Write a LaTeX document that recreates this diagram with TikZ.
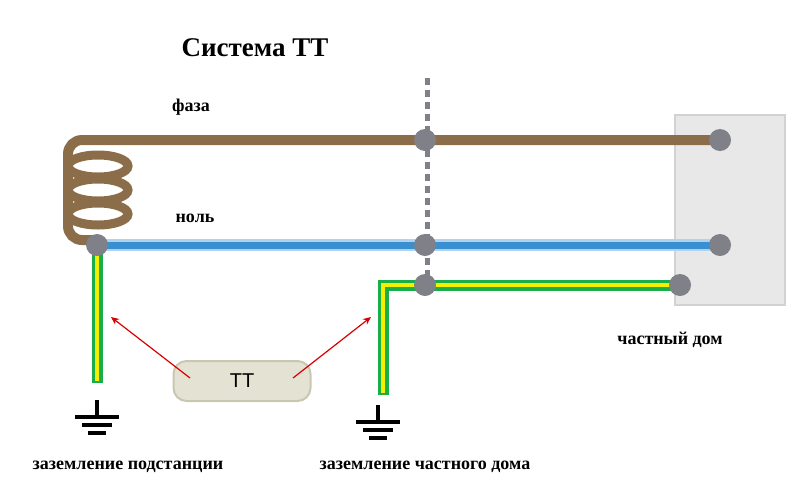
\documentclass[tikz,border=0pt]{standalone}
\usepackage{fontspec}
\setmainfont{Liberation Serif}
\newfontfamily\labelsans{Liberation Sans}
\usetikzlibrary{arrows.meta}
\definecolor{phasebrown}{HTML}{8C6D4A}
\definecolor{zeroblue}{HTML}{3A8FD0}
\definecolor{dotgray}{HTML}{7F8088}
\definecolor{pegreen}{HTML}{1AAE48}
\definecolor{peyellow}{HTML}{F5F000}
\definecolor{boxfill}{HTML}{E4E2D2}
\definecolor{boxline}{HTML}{C9C7B2}
\tikzset{
  lbl/.style={font=\bfseries\fontsize{18}{20}\selectfont},
  junction/.style={circle,fill=dotgray,minimum size=22pt,inner sep=0pt},
  pegreen/.style={draw=pegreen,line width=11pt},
  peyellow/.style={draw=peyellow,line width=4.5pt},
  pointer/.style={red!85!black,line width=1.2pt,-{Stealth[length=8pt,width=7pt]}},
}
\begin{document}
\begin{tikzpicture}[x=1pt,y=-1pt]
  \useasboundingbox (0,0) rectangle (800,488);

            % house
            \fill[gray!18,draw=gray!35,line width=1.5pt] (675,115) rectangle (785,305);

            % dashed line
            \draw[dotgray,line width=5pt,dash pattern=on 7pt off 5pt] (427,78)--(427,285);

            % coil and phase
            \draw[phasebrown,line width=10pt,rounded corners=14pt]
              (720,140)--(68,140)--(68,240)--(97,240);
            \foreach \y in {166,190,214}{
              \draw[phasebrown,line width=9pt] (98,\y) ellipse [x radius=30,y radius=11];
            }

            % zero
            \draw[zeroblue!40,line width=12pt] (97,245)--(720,245);
            \draw[zeroblue,line width=7pt] (97,245)--(720,245);

            % PE
            \draw[pegreen] (97,245)--(97,383);
            \draw[peyellow] (97,245)--(97,381);
            \draw[pegreen,line join=miter] (680,285)--(383,285)--(383,395);
            \draw[peyellow,line join=miter] (680,285)--(383,285)--(383,393);

            % junctions
            \node[junction] (n0) at (97,245) {};
            \node[junction] (p1) at (425,140) {};
            \node[junction] (p2) at (720,140) {};
            \node[junction] (z1) at (425,245) {};
            \node[junction] (z2) at (720,245) {};
            \node[junction] (e1) at (425,285) {};
            \node[junction] (e2) at (680,285) {};

            % grounds
            \foreach \x/\y in {97/400,378/405}{
              \draw[line width=4pt] (\x,\y)--(\x,\y+17);
              \draw[line width=4pt] (\x-22,\y+17)--(\x+22,\y+17);
              \draw[line width=4pt] (\x-15,\y+25)--(\x+15,\y+25);
              \draw[line width=4pt] (\x-9,\y+33)--(\x+9,\y+33);
            }

            % TT
            \node[draw=boxline,fill=boxfill,line width=2pt,rounded corners=13pt,
                  minimum width=137pt,minimum height=40pt,
                  font=\labelsans\fontsize{20}{22}\selectfont] (tt) at (242,381) {TT};
            \coordinate (a1) at (111,317);
            \coordinate (a2) at (371,317);
            \draw[pointer] (190,378)--(a1);
            \draw[pointer] (293,378)--(a2);

            \node[font=\bfseries\fontsize{27}{29}\selectfont] (title) at (255,48) {Система ТТ};
            \node[lbl] (faza) at (191,107) {фаза};
            \node[lbl] (nol) at (195,218) {ноль};
            \node[lbl] (dom) at (670,340) {частный дом};
            \node[lbl] (zp) at (128,467) {заземление подстанции};
            \node[lbl] (zd) at (425,467) {заземление частного дома};
        \end{tikzpicture}
\end{document}
